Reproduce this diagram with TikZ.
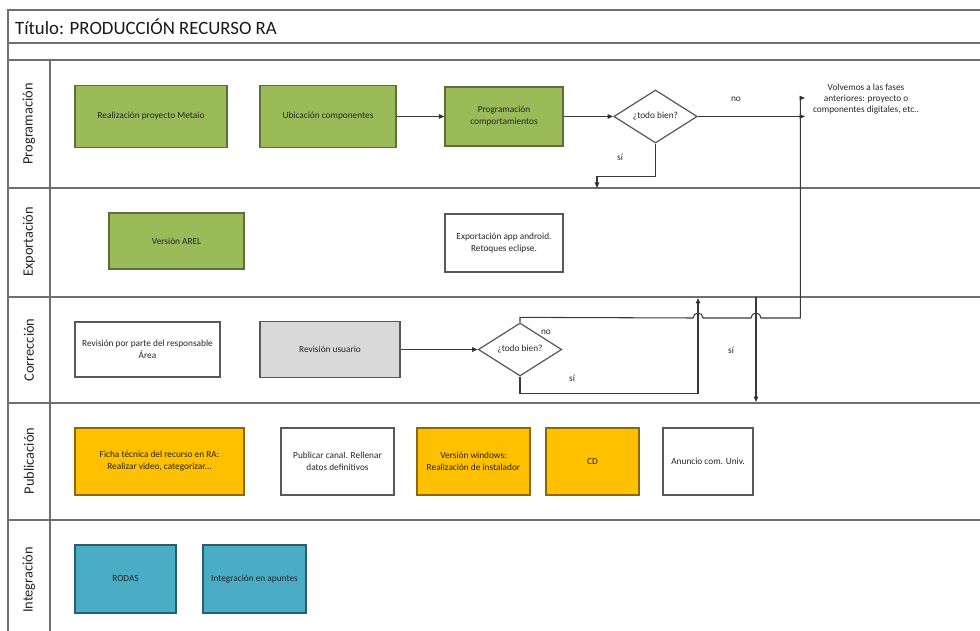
\documentclass[tikz,border=0pt]{standalone}
\usepackage{fontspec}
\setmainfont{Carlito}
\usetikzlibrary{shapes.geometric,arrows.meta}
\definecolor{verdeRA}{HTML}{9BBB59}
\definecolor{naranjaRA}{HTML}{FFC000}
\definecolor{azulRA}{HTML}{4BACC6}
\definecolor{grisRA}{HTML}{D9D9D9}
\definecolor{lineaRA}{HTML}{6F6F6F}

\begin{document}
\begin{tikzpicture}[x=0.02cm, y=-0.02cm,
  caja/.style={draw=gray!70!black, line width=0.6pt, align=center, inner sep=1pt, text=black!85, font=\fontsize{5.3}{6.8}\selectfont},
  vb/.style={caja, fill=verdeRA, draw=verdeRA!60!black},
  nb/.style={caja, fill=naranjaRA, draw=naranjaRA!55!black},
  ab/.style={caja, fill=azulRA, draw=azulRA!55!black},
  gb/.style={caja, fill=grisRA},
  rombo/.style={diamond, draw=gray!70!black, line width=0.7pt, inner sep=0pt, minimum width=1.67cm, minimum height=1.03cm, text=black!85, font=\fontsize{5.3}{6.8}\selectfont},
  etq/.style={text=black!85, font=\fontsize{5.3}{6.8}\selectfont, inner sep=0pt},
  carril/.style={draw=lineaRA, line width=1.2pt},
  carriltxt/.style={rotate=90, text=black!85, font=\fontsize{8.2}{9}\selectfont},
  flecha/.style={draw=gray!45!black, line width=0.6pt, -{Triangle[length=1.1mm, width=0.9mm, fill=black]}}]
\useasboundingbox (0,0) rectangle (980,631);
% marco y carriles
\draw[carril] (8,631) -- (8,10) -- (980,10);
\draw[carril] (8,43) -- (980,43); \draw[carril] (8,60) -- (980,60);
\draw[carril] (8,188) -- (980,188); \draw[carril] (8,297) -- (980,297);
\draw[carril] (8,403) -- (980,403); \draw[carril] (8,520) -- (980,520);
\draw[carril] (50,60) -- (50,631);
\node[anchor=west, text=black!90, font=\fontsize{10.7}{12}\selectfont] (titulo) at (9,27) {Título: PRODUCCIÓN RECURSO RA};
\node[carriltxt] (lprog) at (29,124) {Programación};
\node[carriltxt] (lexp) at (29,242) {Exportación};
\node[carriltxt] (lcorr) at (29,350) {Corrección};
\node[carriltxt] (lpub) at (29,461) {Publicación};
\node[carriltxt] (lint) at (29,580) {Integración};
% Programación
\node[vb, minimum width=3.04cm, minimum height=1.24cm] (metaio) at (151,116.5) {Realización proyecto Metaio};
\node[vb, minimum width=2.72cm, minimum height=1.24cm] (ubic) at (328,116.5) {Ubicación componentes};
\node[vb, minimum width=2.36cm, minimum height=1.18cm] (comport) at (504,116.5) {Programación\\comportamientos};
\node[rombo] (d1) at (655.5,116.5) {¿todo bien?};
\node[etq, align=center, font=\fontsize{5.3}{6.3}\selectfont] (volver) at (866,99) {Volvemos a las fases\\anteriores: proyecto o\\componentes digitales, etc..};
\coordinate (noA) at (805,116.5); \coordinate (noB) at (805,98); \coordinate (siA) at (597,188);
\draw[flecha] (ubic.east) -- (comport.west);
\draw[flecha] (comport.east) -- (d1.west);
\draw[flecha] (d1.east) -- (noA);
\draw[flecha] (d1.south) -- ++(0,33) -| (siA);
\node[etq] (tno1) at (736,99) {no};
\node[etq] (tsi1) at (620,157) {sí};
% Exportación
\node[vb, minimum width=2.70cm, minimum height=1.12cm] (arel) at (176.5,241) {Versión AREL};
\node[caja, minimum width=2.36cm, minimum height=1.16cm] (android) at (504,243) {Exportación app android.\\Retoques eclipse.};
% Corrección
\node[caja, minimum width=2.90cm, minimum height=1.10cm] (revresp) at (147.5,349.5) {Revisión por parte del responsable\\Área};
\node[gb, minimum width=2.80cm, minimum height=1.12cm] (revusu) at (330,349.5) {Revisión usuario};
\node[rombo] (d2) at (520,349.5) {¿todo bien?};
\coordinate (siB) at (698,298); \coordinate (siC0) at (756,297); \coordinate (siC) at (756,402);
\draw[flecha] (revusu.east) -- (d2.west);
\draw[flecha] (d2.north) -- ++(0,-5) -- (693,318) arc[start angle=180, end angle=0, radius=0.1cm] -- (751,318) arc[start angle=180, end angle=0, radius=0.1cm] -- (800.4,318) -- (800.4,98) -- (noB);
\draw[flecha] (d2.south) -- ++(0,17) -| (siB);
\draw[flecha] (siC0) -- (siC);
\node[etq] (tno2) at (546,332) {no};
\node[etq] (tsi2) at (572,378) {sí};
\node[etq] (tsi3) at (731,350) {sí};
% Publicación
\node[nb, minimum width=3.38cm, minimum height=1.34cm] (ficha) at (159.5,461.5) {Ficha técnica del recurso en RA:\\Realizar video, categorizar...};
\node[caja, minimum width=2.26cm, minimum height=1.34cm] (canal) at (337.5,461.5) {Publicar canal. Rellenar\\datos definitivos};
\node[nb, minimum width=2.26cm, minimum height=1.34cm] (windows) at (473.5,461.5) {Versión windows:\\Realización de instalador};
\node[nb, minimum width=1.86cm, minimum height=1.34cm] (cd) at (592.5,461.5) {CD};
\node[caja, minimum width=1.80cm, minimum height=1.34cm] (anuncio) at (708,461.5) {Anuncio com. Univ.};
% Integración
\node[ab, minimum width=2.02cm, minimum height=1.36cm] (rodas) at (125.5,579) {RODAS};
\node[ab, minimum width=2.06cm, minimum height=1.36cm] (apuntes) at (254.5,579) {Integración en apuntes};
\end{tikzpicture}
\end{document}
